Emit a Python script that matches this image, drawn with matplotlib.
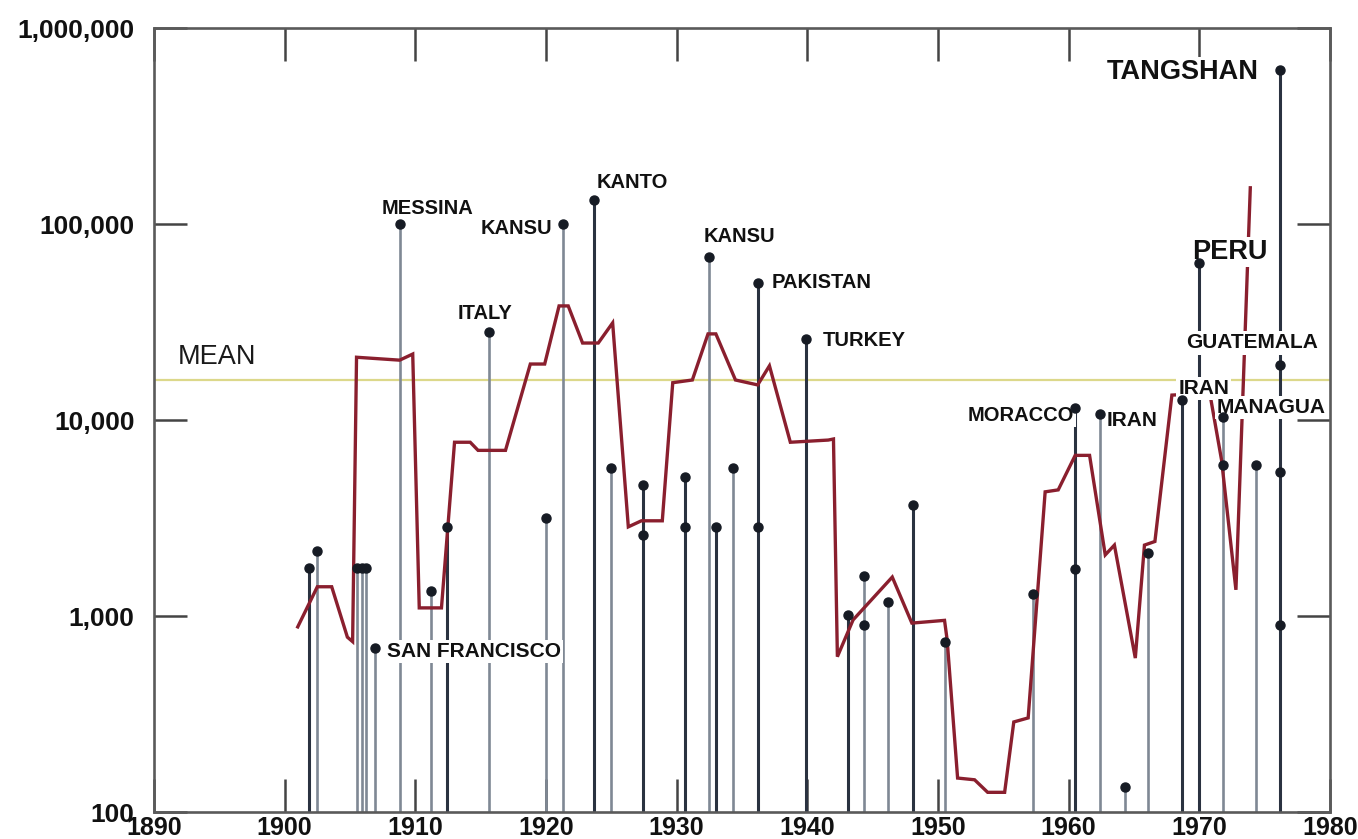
import numpy as np
import matplotlib
matplotlib.use("Agg")
import matplotlib.pyplot as plt
from matplotlib.ticker import FixedLocator, FixedFormatter, NullLocator

# earthquake deaths, one dot per event (several dots can share a year)
quake_years = [1901.9, 1902.5, 1905.5, 1905.9, 1906.2, 1906.9, 1908.8, 1911.2,
               1912.4, 1915.6, 1920.0, 1921.3, 1923.7, 1925.0, 1927.4, 1927.4,
               1930.6, 1930.6, 1932.5, 1933.0, 1934.3, 1936.2, 1936.2, 1939.9,
               1943.1, 1944.3, 1944.3, 1946.2, 1948.1, 1950.5, 1957.3, 1960.5,
               1960.5, 1962.4, 1964.3, 1966.1, 1968.7, 1970.0, 1971.8, 1971.8,
               1974.3, 1976.2, 1976.2, 1976.2, 1976.2]
quake_deaths = [1760, 2150, 1760, 1760, 1760, 690, 100000, 1340,
                2850, 28000, 3160, 100000, 132000, 5700, 4650, 2600,
                5100, 2850, 68000, 2850, 5700, 50000, 2850, 26000,
                1010, 1600, 900, 1180, 3700, 740, 1300, 11500,
                1740, 10700, 134, 2100, 12600, 63000, 10400, 5900,
                5900, 611000, 19100, 5400, 900]

# named events
named_labels = ["SAN FRANCISCO", "MESSINA", "ITALY", "KANSU", "KANTO", "KANSU",
                "PAKISTAN", "TURKEY", "MORACCO", "IRAN", "IRAN", "PERU",
                "GUATEMALA", "MANAGUA", "TANGSHAN"]
named_years = [1906.9, 1908.8, 1915.6, 1921.3, 1923.7, 1932.5,
               1936.2, 1939.9, 1960.5, 1962.4, 1968.7, 1970.0,
               1976.2, 1971.8, 1976.2]
named_deaths = [690, 100000, 28000, 100000, 132000, 68000,
                50000, 26000, 11500, 10700, 12600, 63000,
                19100, 10400, 611000]

# running average (red line)
avg_years = [1901.0, 1902.5, 1903.6, 1904.8, 1905.2, 1905.5, 1908.8, 1909.8,
             1910.3, 1912.0, 1913.0, 1914.2, 1914.8, 1916.9, 1918.8, 1919.9,
             1921.0, 1921.7, 1922.8, 1924.0, 1925.1, 1926.3, 1927.3, 1928.9,
             1929.7, 1931.2, 1932.4, 1933.0, 1934.5, 1936.2, 1937.1, 1938.7,
             1941.6, 1942.0, 1942.3, 1943.5, 1946.5, 1948.0, 1950.5, 1950.7,
             1951.5, 1952.8, 1953.8, 1955.1, 1955.8, 1956.9, 1958.2, 1959.2,
             1960.5, 1961.6, 1962.8, 1963.5, 1965.1, 1965.8, 1966.6, 1967.9,
             1970.8, 1971.7, 1972.8, 1973.9]
avg_deaths = [880, 1410, 1410, 780, 740, 20900, 20200, 21700,
              1100, 1100, 7700, 7700, 7000, 7000, 19300, 19300,
              38200, 38200, 24700, 24700, 31300, 2850, 3060, 3060,
              15500, 16000, 27500, 27500, 16000, 15100, 18900, 7700,
              7900, 8000, 620, 955, 1580, 920, 950, 755,
              149, 146, 126, 126, 288, 302, 4300, 4400,
              6600, 6600, 2050, 2300, 610, 2300, 2400, 13400,
              13700, 6250, 1360, 153000]

mean_deaths = 16000

year_ticks = [1890, 1900, 1910, 1920, 1930, 1940, 1950, 1960, 1970, 1980]
death_ticks = [100, 1000, 10000, 100000, 1000000]
death_tick_labels = ["100", "1,000", "10,000", "100,000", "1,000,000"]

# styles / layout (label offsets in pixels from the dot)
dark_stems = {1901.9, 1912.4, 1923.7, 1927.4, 1930.6, 1933.0, 1936.2, 1939.9,
              1943.1, 1948.1, 1960.5, 1968.7, 1970.0, 1976.2}
label_layout = [((12, -4), "left", 15), ((28, 15), "center", 14.5),
                ((-4, 19), "center", 14.5), ((-11, -4), "right", 14.5),
                ((2, 18), "left", 14.5), ((-6, 20), "left", 14.5),
                ((14, 1), "left", 14.5), ((17, -2), "left", 14.5),
                ((-1, -7), "right", 14.5), ((7, -6), "left", 15),
                ((-4, 12), "left", 15), ((-7, 11), "left", 19.5),
                ((-28, 22), "center", 15), ((-6, 9), "left", 15),
                ((-22, -2), "right", 19.5)]


def main():
    plt.rcParams["font.family"] = ["Liberation Sans", "DejaVu Sans"]

    fig = plt.figure(figsize=(13.58, 8.39), dpi=100)
    ax = fig.add_axes([154 / 1358, 1 - 812 / 839, 1176 / 1358, 784 / 839])
    ax.set_yscale("log")
    ax.set_xlim(1890, 1980)
    ax.set_ylim(100, 1000000)

    # mean line
    ax.axhline(mean_deaths, color="#dcd88a", lw=1.6, zorder=1)
    ax.annotate("MEAN", xy=(1891.8, mean_deaths), xytext=(0, 23),
                textcoords="offset pixels", ha="left", va="center",
                fontsize=19.5, color="#1a1a1a", zorder=6)

    # stems: one per year, from the bottom up to the largest event
    years = np.array(quake_years)
    deaths = np.array(quake_deaths)
    for yr in np.unique(years):
        top = deaths[years == yr].max()
        if yr in dark_stems:
            col, lw = "#2a3240", 2.2
        else:
            col, lw = "#7f8894", 1.9
        ax.vlines(yr, 100, top, colors=col, lw=lw, zorder=2)
    ax.plot(years, deaths, "o", ms=6.5, color="#161b24", zorder=7)

    # running average
    ax.plot(avg_years, avg_deaths, color="#8a1f2e", lw=2.4, zorder=3,
            solid_joinstyle="miter")

    # event labels
    for text, yr, d, (off, ha, fs) in zip(named_labels, named_years,
                                          named_deaths, label_layout):
        ax.annotate(text, xy=(yr, d), xytext=off, textcoords="offset pixels",
                    ha=ha, va="center", fontsize=fs, color="#111111",
                    fontweight="bold", zorder=5,
                    bbox=dict(facecolor="white", edgecolor="none", pad=1.5))

    ax.xaxis.set_major_locator(FixedLocator(year_ticks))
    ax.yaxis.set_major_locator(FixedLocator(death_ticks))
    ax.yaxis.set_major_formatter(FixedFormatter(death_tick_labels))
    ax.yaxis.set_minor_locator(NullLocator())
    ax.tick_params(axis="both", direction="in", length=24, width=1.8,
                   color="#444444", top=True, right=True,
                   labelcolor="#111111")
    ax.tick_params(axis="y", pad=14, labelsize=19)
    ax.tick_params(axis="x", pad=3, labelsize=18)
    for lab in ax.get_xticklabels() + ax.get_yticklabels():
        lab.set_fontweight("bold")
    for sp in ax.spines.values():
        sp.set_color("#5a5a5a")
        sp.set_linewidth(1.9)

    fig.savefig("out.png", dpi=100)


if __name__ == "__main__":
    main()
